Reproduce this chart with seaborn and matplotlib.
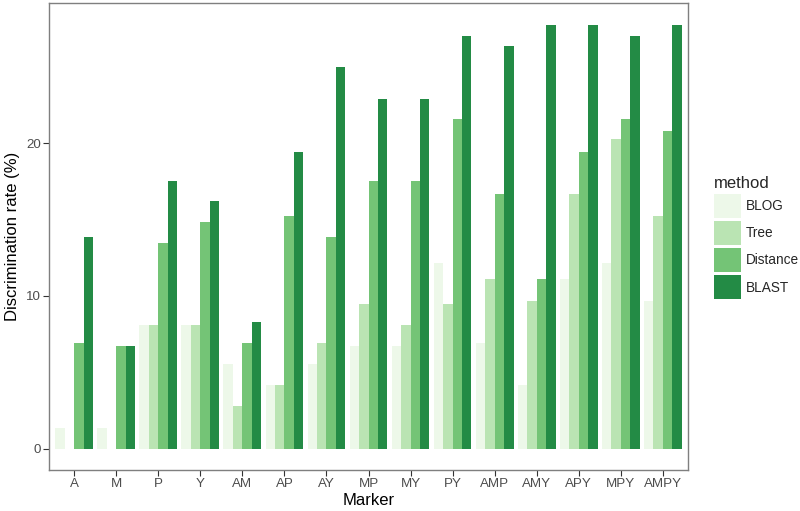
import pandas as pd
import matplotlib
matplotlib.use("Agg")
import matplotlib.pyplot as plt
import seaborn as sns

# values (%)
markers = ["A", "M", "P", "Y", "AM", "AP", "AY", "MP", "MY", "PY",
           "AMP", "AMY", "APY", "MPY", "AMPY"]
methods = ["BLOG", "Tree", "Distance", "BLAST"]
blog = [1.39, 1.33, 8.1, 8.1, 5.53, 4.14, 5.56, 6.73, 6.73, 12.14,
        6.93, 4.16, 11.09, 12.14, 9.69]
tree = [0, 0, 8.1, 8.1, 2.77, 4.14, 6.93, 9.46, 8.08, 9.46,
        11.09, 9.69, 16.65, 20.24, 15.25]
distance = [6.93, 6.73, 13.48, 14.86, 6.93, 15.25, 13.88, 17.54, 17.54, 21.6,
            16.65, 11.09, 19.4, 21.6, 20.8]
blast = [13.86, 6.73, 17.54, 16.19, 8.3, 19.4, 24.97, 22.92, 22.92, 27.0,
         26.36, 27.76, 27.76, 27.0, 27.76]
colors = ["#EDF8E9", "#BAE4B3", "#74C476", "#238B45"]

df = pd.DataFrame({"Marker": markers * 4,
                   "method": [m for m in methods for _ in markers],
                   "rate": blog + tree + distance + blast})

sns.set_style("white")
plt.rcParams["font.family"] = ["Liberation Sans", "DejaVu Sans"]

fig = plt.figure(figsize=(8, 5.11), dpi=100)
ax = fig.add_axes([49 / 800, 41 / 511, 639 / 800, 467 / 511])

sns.barplot(data=df, x="Marker", y="rate", hue="method", order=markers,
            hue_order=methods, palette=colors, saturation=1, width=0.9,
            gap=0, linewidth=0, errorbar=None, ax=ax)

ax.set_xlim(-0.6, 14.6)
ax.set_ylim(-1.39, 29.17)
ax.set_yticks([0, 10, 20])
ax.set_xlabel("Marker", fontsize=12, color="black", labelpad=2)
ax.set_ylabel("Discrimination rate (%)", fontsize=12, color="black", labelpad=4)
ax.tick_params(axis="both", labelsize=9.6, labelcolor="#4D4D4D", color="#333333",
               length=4, width=0.8, pad=2, left=True, bottom=True)
for s in ax.spines.values():
    s.set_visible(True)
    s.set_color("#7F7F7F")
    s.set_linewidth(1)
ax.grid(False)

handles, labels = ax.get_legend_handles_labels()
ax.legend(handles, labels, title="method", loc="upper left",
          bbox_to_anchor=(714 / 800, 1 - 176 / 511), bbox_transform=fig.transFigure,
          frameon=False, fontsize=9.8, title_fontsize=12, handlelength=2.0,
          handleheight=2.35, labelspacing=0.22, handletextpad=0.35,
          borderpad=0, borderaxespad=0, alignment="left")

fig.savefig("out.png", dpi=100)
